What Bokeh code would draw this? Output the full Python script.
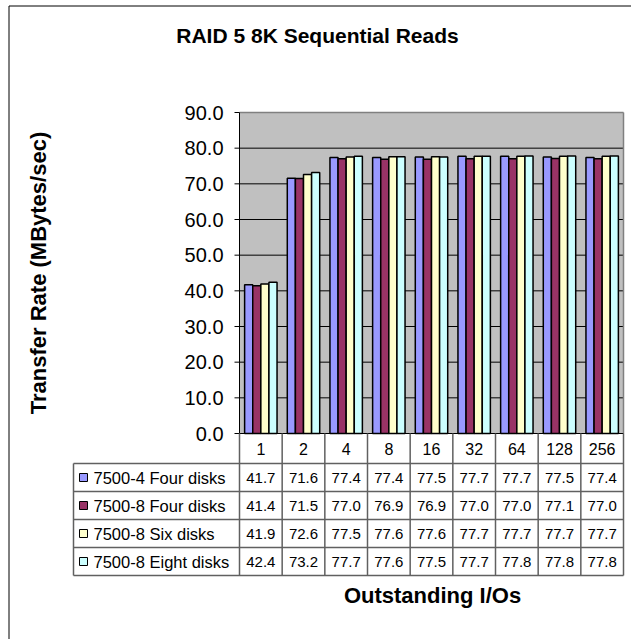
import math
from bokeh.plotting import figure
from bokeh.models import Range1d
from bokeh.core.properties import value
from bokeh.embed import file_html
from bokeh.resources import INLINE

# ---------------- data ----------------
chart_title = "RAID 5 8K Sequential Reads"
x_title = "Outstanding I/Os"
y_title = "Transfer Rate (MBytes/sec)"
categories = ["1", "2", "4", "8", "16", "32", "64", "128", "256"]
series_names = ["7500-4 Four disks", "7500-8 Four disks", "7500-8 Six disks", "7500-8 Eight disks"]
s_7500_4_four = [41.7, 71.6, 77.4, 77.4, 77.5, 77.7, 77.7, 77.5, 77.4]
s_7500_8_four = [41.4, 71.5, 77.0, 76.9, 76.9, 77.0, 77.0, 77.1, 77.0]
s_7500_8_six = [41.9, 72.6, 77.5, 77.6, 77.6, 77.7, 77.7, 77.7, 77.7]
s_7500_8_eight = [42.4, 73.2, 77.7, 77.6, 77.5, 77.7, 77.8, 77.8, 77.8]
y_ticks = [0, 10, 20, 30, 40, 50, 60, 70, 80, 90]
y_tick_labels = ["0.0", "10.0", "20.0", "30.0", "40.0", "50.0", "60.0", "70.0", "80.0", "90.0"]
series = [s_7500_4_four, s_7500_8_four, s_7500_8_six, s_7500_8_eight]
colors = ["#9999FF", "#993366", "#FFFFCC", "#CCFFFF"]

# ---------------- layout (page pixels) ----------------
W, H = 631, 639
OFF = 0
PX0, PX1 = 239, 623       # plot area left/right
PY0, PY1 = 433, 112       # y=0 and y=90
NCAT = len(categories)
YMAX = 90
sx = NCAT / (PX1 - PX0)
sy = YMAX / (PY0 - PY1)


def dx(px):
    return (px - PX0) * sx


def dy(py):
    return (PY0 - py) * sy


FONT = value("Liberation Sans")

p = figure(width=W, height=H, min_border=0, toolbar_location=None, output_backend="svg",
           x_range=Range1d(dx(OFF), dx(OFF + W)), y_range=Range1d(dy(OFF + H), dy(OFF)),
           x_axis_location=None, y_axis_location=None)
p.xgrid.visible = False
p.ygrid.visible = False
p.outline_line_color = None
p.background_fill_color = "white"
p.border_fill_color = "white"

# outer chart border (left and top visible)
p.segment(x0=[dx(8.5), dx(8.5)], y0=[dy(5.5), dy(5.5)], x1=[dx(8.5), dx(OFF + W + 5)],
          y1=[dy(OFF + H + 5), dy(5.5)], line_color="black", line_width=1)

# plot area
p.quad(left=0, right=NCAT, bottom=0, top=YMAX, fill_color="#C0C0C0", line_color=None)
grid_vals = [t for t in y_ticks if 0 < t < YMAX]
p.segment(x0=[0] * len(grid_vals), x1=[NCAT] * len(grid_vals), y0=grid_vals, y1=grid_vals,
          line_color="black", line_width=1)
p.segment(x0=[0, NCAT], x1=[NCAT, NCAT], y0=[YMAX, 0], y1=[YMAX, YMAX],
          line_color="#808080", line_width=1.5)

# bars
bar_w = 0.19
offsets = [(-1.5 + i) * bar_w for i in range(len(series))]
for i, s in enumerate(series):
    p.vbar(x=[k + 0.5 + offsets[i] for k in range(NCAT)], width=bar_w, bottom=0, top=s,
           fill_color=colors[i], line_color="black", line_width=1.5)

# y axis
p.segment(x0=[0], x1=[0], y0=[0], y1=[YMAX], line_color="black", line_width=1)
p.segment(x0=[dx(234)] * len(y_ticks), x1=[0] * len(y_ticks), y0=y_ticks, y1=y_ticks,
          line_color="black", line_width=1)
p.text(x=[dx(223)] * len(y_ticks), y=y_ticks, text=y_tick_labels, text_font=FONT,
       text_font_size="20px", text_align="right", text_baseline="middle", text_color="black")
p.segment(x0=[0], x1=[NCAT], y0=[0], y1=[0], line_color="black", line_width=1)

# data table
TCOL = "#606060"
row_edges = [463, 491, 519, 547, 575]
p.segment(x0=list(range(NCAT + 1)), x1=list(range(NCAT + 1)), y0=[0] * (NCAT + 1),
          y1=[dy(row_edges[-1])] * (NCAT + 1), line_color=TCOL, line_width=1.5)
p.segment(x0=[dx(73)], x1=[dx(73)], y0=[dy(row_edges[0])], y1=[dy(row_edges[-1])],
          line_color=TCOL, line_width=1.5)
p.segment(x0=[dx(73)] * len(row_edges), x1=[NCAT] * len(row_edges),
          y0=[dy(r) for r in row_edges], y1=[dy(r) for r in row_edges],
          line_color=TCOL, line_width=1.5)
p.text(x=[k + 0.5 for k in range(NCAT)], y=[dy(448)] * NCAT, text=categories, text_font=FONT,
       text_font_size="16px", text_align="center", text_baseline="middle", text_color="black")
for i, s in enumerate(series):
    yc = dy((row_edges[i] + row_edges[i + 1]) / 2)
    p.text(x=[k + 0.5 for k in range(NCAT)], y=[yc] * NCAT, text=["%.1f" % v for v in s],
           text_font=FONT, text_font_size="15px", text_align="center", text_baseline="middle",
           text_color="black")
    p.rect(x=[dx(83)], y=[yc], width=8, height=8, width_units="screen", height_units="screen",
           fill_color=colors[i], line_color="black", line_width=1)
    p.text(x=[dx(93)], y=[yc], text=[series_names[i]], text_font=FONT, text_font_size="16.5px",
           text_align="left", text_baseline="middle", text_color="black")

# titles
p.text(x=[dx(317)], y=[dy(35)], text=[chart_title], text_font=FONT, text_font_size="21px",
       text_font_style="bold", text_align="center", text_baseline="middle", text_color="black")
p.text(x=[dx(432)], y=[dy(595)], text=[x_title], text_font=FONT, text_font_size="22px",
       text_font_style="bold", text_align="center", text_baseline="middle", text_color="black")
p.text(x=[dx(38)], y=[YMAX / 2], text=[y_title], angle=math.pi / 2, text_font=FONT,
       text_font_size="22px", text_font_style="bold", text_align="center",
       text_baseline="middle", text_color="black")

open("out.html", "w").write(file_html(p, INLINE))
